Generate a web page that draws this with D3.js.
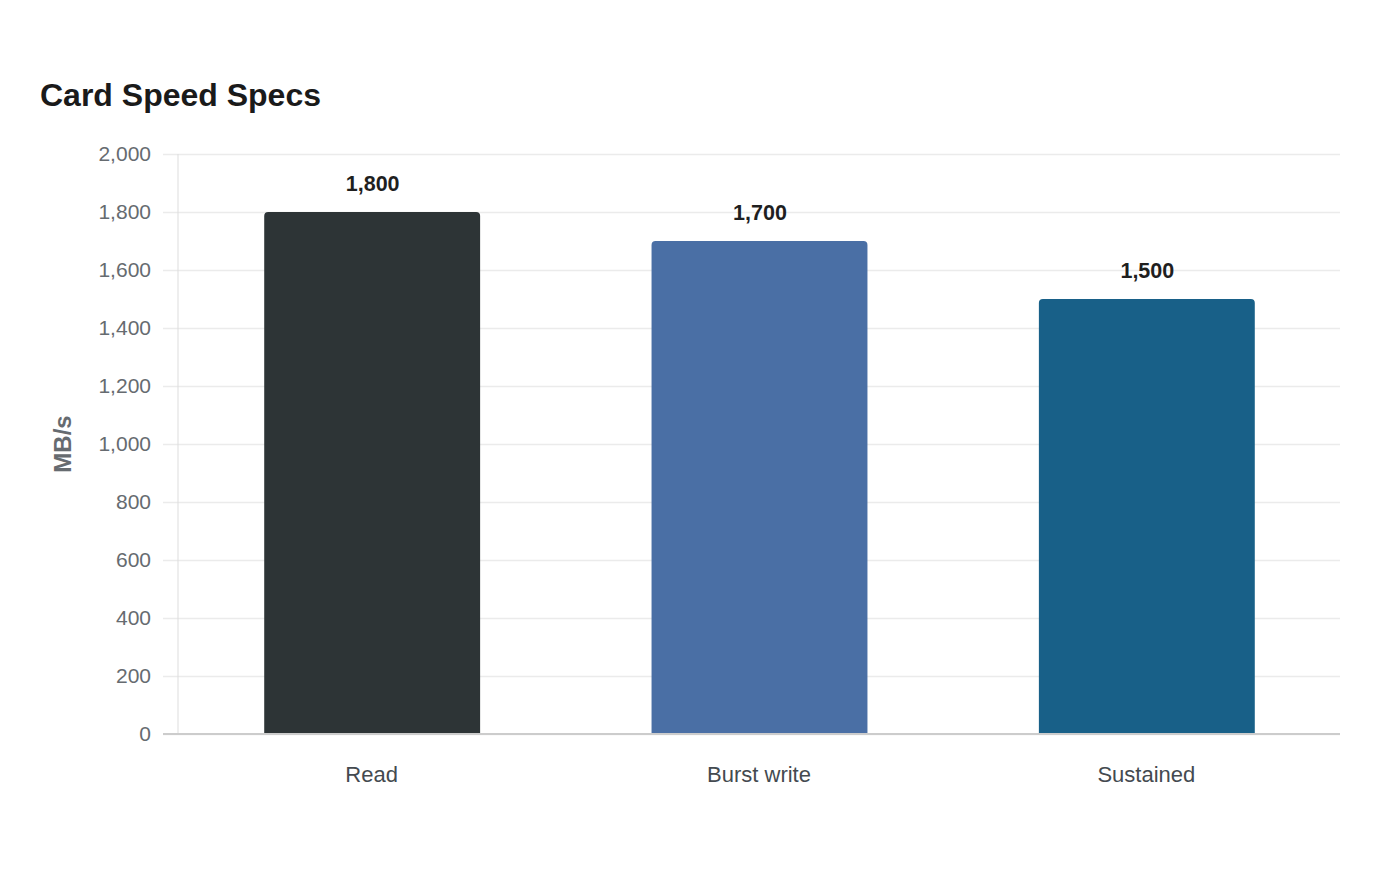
<!DOCTYPE html>
<html>
<head>
<meta charset="utf-8">
<script src="https://cdn.jsdelivr.net/npm/d3@7"></script>
<style>
  body { margin: 0; background: #fff; }
  svg text { font-family: "Liberation Sans", Arial, sans-serif; }
</style>
</head>
<body>
<svg id="chart" width="1400" height="880"></svg>
<script>
var categories = ["Read", "Burst write", "Sustained"];
var speeds = [1800, 1700, 1500];
var barColors = ["#2d3436", "#4a6fa5", "#186088"];
var yTicks = [0, 200, 400, 600, 800, 1000, 1200, 1400, 1600, 1800, 2000];

var svg = d3.select("#chart");
var margin = {top: 154, right: 60, bottom: 146, left: 178};
var width = 1400 - margin.left - margin.right;
var height = 880 - margin.top - margin.bottom;

svg.append("text")
  .attr("x", 40).attr("y", 106)
  .attr("font-size", 32).attr("font-weight", "bold")
  .attr("fill", "#1a1a1a")
  .text("Card Speed Specs");

var g = svg.append("g").attr("transform", "translate(" + margin.left + "," + margin.top + ")");

var x = d3.scaleBand().domain(categories).range([0, width]).paddingInner(0.44).paddingOuter(0.22);
var y = d3.scaleLinear().domain([0, 2000]).range([height, 0]);

// grid + y ticks
var yAxis = g.append("g")
  .call(d3.axisLeft(y).tickValues(yTicks).tickSize(-width - 15).tickFormat(d3.format(",")).tickPadding(12))
  .attr("transform", "translate(-15,0)");
yAxis.select(".domain").remove();
yAxis.selectAll("line").attr("stroke", "#ebebeb").attr("stroke-width", 1.5).attr("transform", "translate(15,0)").attr("x2", width).attr("x1", -15);
yAxis.selectAll("text").attr("font-size", 21).attr("fill", "#666b70").attr("font-family", "Liberation Sans, Arial, sans-serif");

// left axis line
g.append("line")
  .attr("x1", 0).attr("x2", 0).attr("y1", 0).attr("y2", height)
  .attr("stroke", "#dddddd").attr("stroke-width", 1);

var r = 4;
g.selectAll(".bar")
  .data(categories)
  .enter()
  .append("path")
  .attr("class", "bar")
  .attr("fill", function(d, i){ return barColors[i]; })
  .attr("d", function(d, i){
    var x0 = x(d) + 1, w = x.bandwidth() - 1, y0 = y(speeds[i]), b = y(0);
    return "M" + x0 + "," + b + " L" + x0 + "," + (y0 + r) +
      " Q" + x0 + "," + y0 + " " + (x0 + r) + "," + y0 +
      " L" + (x0 + w - r) + "," + y0 +
      " Q" + (x0 + w) + "," + y0 + " " + (x0 + w) + "," + (y0 + r) +
      " L" + (x0 + w) + "," + b + " Z";
  });

g.selectAll(".val")
  .data(categories)
  .enter()
  .append("text")
  .attr("class", "val")
  .attr("x", function(d){ return x(d) + x.bandwidth() / 2 + 1; })
  .attr("y", function(d, i){ return y(speeds[i]) - 21; })
  .attr("text-anchor", "middle")
  .attr("font-size", 21.5).attr("font-weight", "bold").attr("fill", "#1f1f1f")
  .text(function(d, i){ return d3.format(",")(speeds[i]); });

// baseline
g.append("line")
  .attr("x1", -15).attr("x2", width).attr("y1", height).attr("y2", height)
  .attr("stroke", "#cccccc").attr("stroke-width", 2);

// x axis labels
var xAxis = g.append("g")
  .attr("transform", "translate(0," + height + ")")
  .call(d3.axisBottom(x).tickSize(0).tickPadding(32));
xAxis.select(".domain").remove();
xAxis.selectAll("text").attr("font-size", 22).attr("fill", "#444a50").attr("font-family", "Liberation Sans, Arial, sans-serif");

svg.append("text")
  .attr("transform", "translate(71," + (margin.top + height / 2) + ") rotate(-90)")
  .attr("text-anchor", "middle")
  .attr("font-size", 24).attr("font-weight", "bold").attr("fill", "#666b70")
  .text("MB/s");
</script>
</body>
</html>
